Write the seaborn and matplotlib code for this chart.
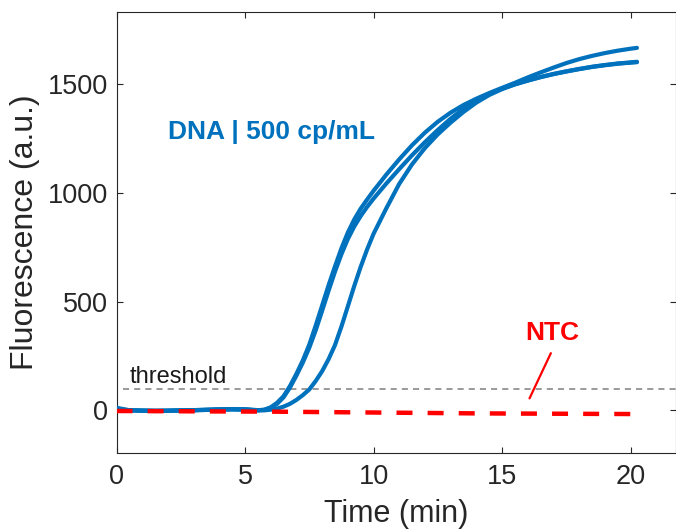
import matplotlib
matplotlib.use("Agg")
import matplotlib.pyplot as plt
import seaborn as sns
import pandas as pd

# ---- data ----
time_min = [0, 0.5, 1, 1.5, 2, 2.5, 3, 3.5, 4, 4.5, 5, 5.5, 5.75, 6, 6.25, 6.5,
            6.75, 7, 7.25, 7.5, 7.75, 8, 8.25, 8.5, 8.75, 9, 9.25, 9.5, 9.75, 10,
            10.5, 11, 11.5, 12, 12.5, 13, 13.5, 14, 14.5, 15, 15.5, 16, 16.5, 17,
            17.5, 18, 18.5, 19, 19.5, 20, 20.25]
rep_a = [12, 0, -2, -3, -2, -1, 0, 2, 4, 5, 4, 0, 3, 14, 35, 65,
         112, 168, 230, 302, 390, 482, 575, 662, 745, 818, 878, 928, 970, 1010,
         1085, 1155, 1220, 1278, 1328, 1370, 1405, 1434, 1460, 1484, 1507, 1532, 1555, 1577,
         1598, 1616, 1631, 1644, 1655, 1664, 1668]
rep_b = [6, 1, -1, -2, -2, 0, 1, 3, 5, 6, 5, 1, 2, 11, 30, 60,
         105, 160, 220, 288, 368, 458, 550, 638, 718, 788, 846, 894, 936, 974,
         1044, 1110, 1174, 1234, 1290, 1342, 1388, 1426, 1457, 1480, 1500, 1517, 1533, 1547,
         1559, 1570, 1580, 1588, 1595, 1600, 1602]
rep_c = [2, 0, -1, -2, -1, 0, 1, 2, 3, 4, 3, 0, 0, 3, 8, 17,
         30, 48, 70, 96, 135, 180, 235, 300, 385, 478, 572, 660, 740, 812,
         930, 1042, 1132, 1207, 1270, 1324, 1373, 1416, 1451, 1478, 1500, 1518, 1534, 1548,
         1560, 1571, 1581, 1589, 1596, 1601, 1604]
ntc_time = [0, 2, 4, 6, 8, 10, 12, 14, 16, 18, 20, 20.2]
ntc_vals = [-3, -4, -5, -6, -8, -10, -12, -14, -15, -16, -17, -18]
threshold = 100

blue = "#0072BD"
red = "#FF0000"
axcol = "#262626"

df = pd.DataFrame({
    "time": time_min * 3,
    "fluor": rep_a + rep_b + rep_c,
    "rep": ["A"] * len(time_min) + ["B"] * len(time_min) + ["C"] * len(time_min),
})
df_ntc = pd.DataFrame({"time": ntc_time, "fluor": ntc_vals})

sns.set_style("ticks")
plt.rcParams["font.family"] = ["Liberation Sans", "DejaVu Sans"]

fig = plt.figure(figsize=(6.76, 5.29), dpi=100)
ax = fig.add_axes([116.5 / 676, 1 - 452.5 / 529, (675.5 - 116.5) / 676, (452.5 - 12) / 529])

# threshold line
ax.hlines(threshold, 0.25, 21.75, colors="#7f7f7f", linewidth=1.1,
          linestyles=(0, (4, 3.3)), zorder=1)

sns.lineplot(data=df, x="time", y="fluor", units="rep", estimator=None,
             color=blue, linewidth=3, ax=ax, zorder=3,
             solid_joinstyle="round", solid_capstyle="round")
sns.lineplot(data=df_ntc, x="time", y="fluor", color=red, linewidth=3.2,
             linestyle=(0, (3.6, 3.4)), ax=ax, zorder=4)

ax.set_xlim(0, 21.75)
ax.set_ylim(-194, 1833)
ax.set_xticks([0, 5, 10, 15, 20])
ax.set_yticks([0, 500, 1000, 1500])

ax.set_xlabel("Time (min)", fontsize=22, color=axcol, labelpad=7)
ax.set_ylabel("Fluorescence (a.u.)", fontsize=23, color=axcol, labelpad=6)

ax.tick_params(direction="in", length=4, width=0.8, colors=axcol, labelsize=19.5,
               top=True, right=True)
ax.tick_params(axis="x", pad=8)
ax.tick_params(axis="y", pad=6)
for s in ax.spines.values():
    s.set_visible(True)
    s.set_color(axcol)
    s.set_linewidth(0.8)

ax.text(0.53, 128, "threshold", fontsize=17, color="#1a1a1a", ha="left", va="baseline")
ax.text(2.0, 1250, "DNA | 500 cp/mL", fontsize=19, fontweight="bold", color=blue,
        ha="left", va="baseline")
ax.text(16.95, 323, "NTC", fontsize=19, fontweight="bold", color=red,
        ha="center", va="baseline")
ax.plot([16.9, 16.07], [263, 55], color=red, linewidth=1.6)

fig.savefig("out.png", dpi=100)
